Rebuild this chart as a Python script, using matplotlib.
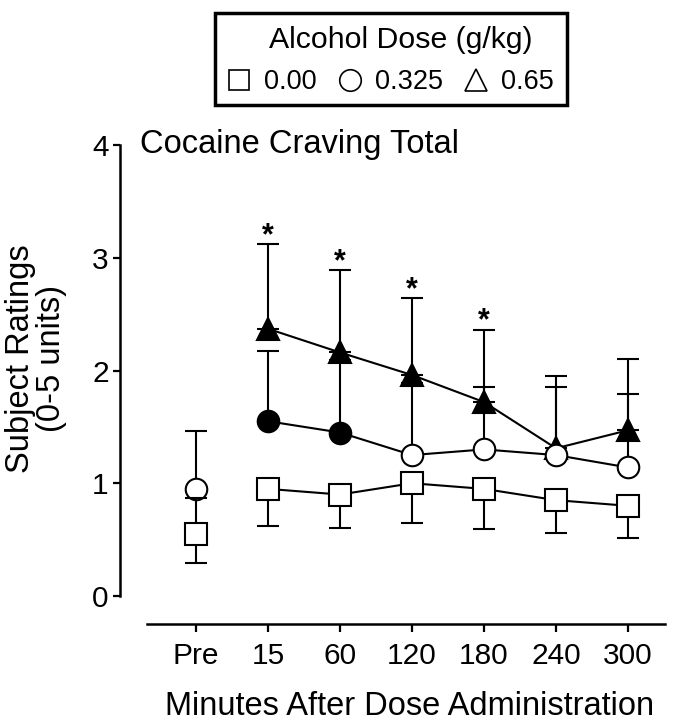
import matplotlib
matplotlib.use("Agg")
import matplotlib.pyplot as plt
from matplotlib.lines import Line2D
from matplotlib.patches import Rectangle
import numpy as np

plt.rcParams['font.family'] = ['Liberation Sans', 'DejaVu Sans']

# time points
labels = ['Pre', '15', '60', '120', '180', '240', '300']

# 0.00 g/kg (squares) - mean, lower error end, upper error end (Pre only)
sq_mean = [0.55, 0.95, 0.90, 1.00, 0.95, 0.85, 0.80]
sq_low = [0.29, 0.62, 0.60, 0.65, 0.59, 0.56, 0.51]
sq_high = [0.87, np.nan, np.nan, np.nan, np.nan, np.nan, np.nan]

# 0.325 g/kg (circles) - mean, upper error end, filled = significant
ci_mean = [0.95, 1.55, 1.45, 1.25, 1.30, 1.25, 1.14]
ci_high = [1.46, 2.17, 2.09, 1.89, 1.85, 1.85, 1.79]
ci_filled = [False, True, True, False, False, False, False]

# 0.65 g/kg (triangles)
tr_mean = [np.nan, 2.37, 2.16, 1.96, 1.72, 1.31, 1.47]
tr_high = [np.nan, 3.12, 2.89, 2.64, 2.36, 1.95, 2.10]
tr_star = [False, True, True, True, True, False, False]

x = np.arange(len(labels))

fig = plt.figure(figsize=(6.85, 7.22), dpi=100)
ax = fig.add_axes([147/685, 1-596/722, (665-147)/685, (596-145)/722])

ms = 15.5
lw = 1.5
cap = 8

def up_err(mean, high):
    m = np.array(mean, float)
    h = np.array(high, float)
    ok = ~np.isnan(h) & ~np.isnan(m)
    return x[ok], m[ok], np.vstack([np.zeros(ok.sum()), (h - m)[ok]])

def down_err(mean, low):
    m = np.array(mean, float)
    l = np.array(low, float)
    ok = ~np.isnan(l)
    return x[ok], m[ok], np.vstack([(m - l)[ok], np.zeros(ok.sum())])

# triangles
xe, ye, ee = up_err(tr_mean, tr_high)
ax.errorbar(xe, ye, yerr=ee, fmt='none', ecolor='black', elinewidth=lw,
            capsize=cap, capthick=lw, zorder=2)
ax.plot(x[1:], tr_mean[1:], color='black', lw=lw, zorder=2)
ax.plot(x[1:], tr_mean[1:], ls='none', marker='^', ms=ms, mfc='black',
        mec='black', mew=lw, zorder=3)
for xi, h, s in zip(x, tr_high, tr_star):
    if s:
        ax.text(xi, h - 0.06, '*', ha='center', va='bottom', fontsize=22,
                fontweight='bold')

# circles
xe, ye, ee = up_err(ci_mean, ci_high)
ax.errorbar(xe, ye, yerr=ee, fmt='none', ecolor='black', elinewidth=lw,
            capsize=cap, capthick=lw, zorder=4)
ax.plot(x[1:], ci_mean[1:], color='black', lw=lw, zorder=4)
for xi, m, f in zip(x, ci_mean, ci_filled):
    ax.plot(xi, m, ls='none', marker='o', ms=ms, mfc='black' if f else 'white',
            mec='black', mew=lw, zorder=5)

# squares
xe, ye, ee = down_err(sq_mean, sq_low)
ax.errorbar(xe, ye, yerr=ee, fmt='none', ecolor='black', elinewidth=lw,
            capsize=cap, capthick=lw, zorder=6)
xe, ye, ee = up_err(sq_mean, sq_high)
ax.errorbar(xe, ye, yerr=ee, fmt='none', ecolor='black', elinewidth=lw,
            capsize=cap, capthick=lw, zorder=6)
ax.plot(x[1:], sq_mean[1:], color='black', lw=lw, zorder=6)
ax.plot(x, sq_mean, ls='none', marker='s', ms=ms, mfc='white',
        mec='black', mew=lw, zorder=7)

ax.set_xlim((147-196)/72, (665-196)/72)
ax.set_ylim(0, 4)
ax.set_xticks(x)
ax.set_xticklabels(labels)
ax.set_yticks([0, 1, 2, 3, 4])

for s in ['top', 'right']:
    ax.spines[s].set_visible(False)
# outward offsets are in points (27 px and 28 px at 100 dpi)
ax.spines['left'].set_position(('outward', 19.5))
ax.spines['bottom'].set_position(('outward', 20))
ax.spines['left'].set_linewidth(1.8)
ax.spines['bottom'].set_linewidth(1.8)
ax.tick_params(axis='both', width=1.6, labelsize=21.5, color='black')
ax.tick_params(axis='y', length=5, pad=3)
ax.tick_params(axis='x', length=6, pad=7)

ax.set_xlabel('Minutes After Dose Administration', fontsize=23.5, labelpad=15)
ax.xaxis.label.set_x((410-147)/518)
ax.set_ylabel('Subject Ratings\n(0-5 units)', fontsize=23.5, linespacing=1.0)
ax.yaxis.set_label_coords(67/685, 1-359/722, transform=fig.transFigure)

fig.text(140/685, 1-153/722, 'Cocaine Craving Total', fontsize=23.5,
         ha='left', va='baseline')

# legend: title text, entries row and a separately drawn frame
fig.text(401/685, 1-48/722, 'Alcohol Dose (g/kg)', fontsize=21.8,
         ha='center', va='baseline')
handles = [
    Line2D([], [], ls='none', marker='s', ms=14.5, mfc='white', mec='black', mew=1.2),
    Line2D([], [], ls='none', marker='o', ms=15.5, mfc='white', mec='black', mew=1.2),
    Line2D([], [], ls='none', marker='^', ms=15.5, mfc='white', mec='black', mew=1.2),
]
leg = fig.legend(handles, ['0.00', '0.325', '0.65'], ncol=3, fontsize=19.5,
                 loc='center', bbox_to_anchor=(391/685, 1-82/722),
                 frameon=False, handlelength=0.8, handletextpad=0.5,
                 columnspacing=0.85, borderpad=0.0)
fig.add_artist(Rectangle((215/685, 1-105/722), (567-215)/685, (105-13)/722,
                         transform=fig.transFigure, fill=False,
                         edgecolor='black', lw=2.5))

fig.savefig('out.png', dpi=100)
